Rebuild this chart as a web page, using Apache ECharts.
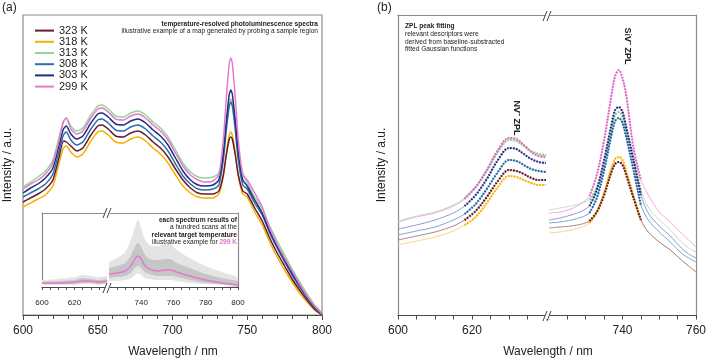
<!DOCTYPE html>
<html><head><meta charset="utf-8">
<script src="https://cdn.jsdelivr.net/npm/echarts@6/dist/echarts.min.js"></script>
<style>html,body{margin:0;padding:0;background:#fff}#c{width:709px;height:360px}</style>
</head><body><div id="c"></div>
<script>
// ---------------- data ----------------
const TEMPS = ['323 K','318 K','313 K','308 K','303 K','299 K'];

// panel (a): full spectra
const WL_A = [600,605,610,615,620,624,627,629,632,636,640,645,650,653,657,662,667,672,677,682,687,692,697,702,707,712,717,722,727,731,734,736,738,739,740,742,744,747,750,755,760,765,770,775,780,785,790,795,800];
const A_323 = [113,117,121,126,135,157,174,173,169,164,167,179,189,190,186,179,178,182,184,180,173,167,158,146,135,127,122,121,121,124,140,160,176,178,176,160,140,124,121,107,94,77,62,49,36,25,15,6,0];
const A_318 = [108,112,116,120,129,151,167,169,163,158,161,173,183,184,180,173,172,176,178,174,167,161,152,140,129,122,118,117,117,121,139,162,180,183,180,162,139,121,118,103,90,73,58,45,33,22,13,5,0];
const A_313 = [128,133,138,144,155,177,194,197,189,184,187,199,209,210,206,199,198,202,204,200,193,187,178,165,152,143,138,137,138,142,164,191,213,216,213,191,164,142,132,118,106,89,74,60,46,33,21,10,2];
const A_308 = [118,122,126,131,141,163,180,183,175,170,173,185,195,196,192,185,184,188,190,186,179,173,164,151,139,131,126,125,126,130,155,185,209,213,209,185,155,130,126,112,100,82,67,53,40,28,17,7,1];
const A_303 = [122,127,131,137,147,169,186,189,181,176,179,191,201,202,198,191,190,194,196,192,185,179,170,157,144,135,130,129,130,135,162,194,221,225,221,194,162,135,129,115,102,84,69,55,42,30,18,8,1];
const A_299 = [126,131,135,141,152,174,193,197,186,181,184,196,206,207,203,196,195,199,201,197,190,184,175,162,149,140,135,133,134,140,175,217,252,257,252,217,175,140,135,122,108,87,71,57,44,31,19,9,1];

// inset: 100-scan spread for 299 K
const WL_IL = [600,610,620,625,630,635,640];
const IL_MEAN = [4,4,5,6,6,5,6];
const IL_OUT_HI = [7,8,10,12,11,10,11];
const IL_IN_HI = [5,6,7,9,8,7,8];
const IL_IN_LO = [3,3,3,4,4,3,4];
const IL_OUT_LO = [2,2,2,3,3,2,3];
const WL_IR = [720,725,730,734,736,738,740,742,745,750,755,758,762,770,780,790,800];
const IR_MEAN = [13,14,16,22,28,31,28,22,18,16,17,17,15,11,7,4,2];
const IR_OUT_HI = [25,29,35,49,59,67,59,49,42,41,43,43,37,29,21,15,10];
const IR_IN_HI = [19,21,24,33,40,44,40,33,28,27,28,28,24,19,13,9,6];
const IR_IN_LO = [9,10,11,15,19,21,19,15,13,11,11,11,10,7,4,3,1];
const IR_OUT_LO = [6,6,7,9,12,14,12,9,8,7,7,7,6,4,3,2,1];

// panel (b): NV- region
const WL_BL = [600,605,610,615,618,621,624,627,630,632,634,636,638,640];
const BL_323 = [75,79,83,89,95,104,118,134,145,144,141,137,135,135];
const BL_318 = [70,74,78,84,90,98,112,128,139,138,135,132,130,130];
const BL_313 = [94,99,103,110,117,128,144,163,175,174,169,164,161,160];
const BL_308 = [80,84,88,95,101,111,126,143,155,154,150,146,144,143];
const BL_303 = [86,90,95,102,109,120,136,155,167,166,161,156,153,152];
const BL_299 = [93,98,102,109,116,128,145,165,177,176,170,163,159,158];
// panel (b): SiV- region
const WL_BR = [720,723,726,729,731,733,735,737,738,739,740,741,743,745,747,750,753,756,758,760];
const BR_323 = [87,88,89,91,94,103,120,143,151,153,150,140,117,95,83,73,65,55,49,43];
const BR_318 = [82,83,85,88,92,103,122,147,156,158,155,144,119,95,83,73,65,55,49,43];
const BR_313 = [105,107,109,112,115,128,153,187,200,203,198,185,155,125,108,95,85,73,67,63];
const BR_308 = [92,93,95,98,102,117,145,180,194,197,192,178,145,110,95,83,73,62,57,53];
const BR_303 = [95,97,100,104,109,125,155,190,205,208,203,188,155,120,102,89,79,67,61,57];
const BR_299 = [102,103,106,112,119,140,175,220,239,245,237,220,167,135,120,103,93,82,75,68];
// fitted ranges (Gaussian fits drawn over these windows)
const FIT_NV = [618, 640];
const FIT_SIV = [731, 745];

const TICKS_A = [600,650,700,750,800];
const TICKS_INSET = [600,620,740,760,780,800];
const TICKS_B = [600,620,740,760];

// ---------------- style ----------------
const FONT = 'Liberation Sans, Arial, Helvetica, sans-serif';
const COL_MAIN = {'323 K':'#6a1b2b','318 K':'#f6b100','313 K':'#98d598','308 K':'#2b6eab','303 K':'#262b7c','299 K':'#e37ad0'};
const COL_SPEC_B = {'323 K':'#a98690','318 K':'#f8d77f','313 K':'#bce4bc','308 K':'#76a9d8','303 K':'#9797cf','299 K':'#eeaadf'};
const COL_FIT_B = {'323 K':'#5a1422','318 K':'#f5b200','313 K':'#8fd08f','308 K':'#1d63a5','303 K':'#23297a','299 K':'#dc66c8'};
const AXC = '#4a4a4a', FRAME = '#8c8c8c', TXT = '#222';

const pairs = (wl, v) => wl.map((x, i) => [x, v[i]]);
const within = (wl, v, r) => pairs(wl, v).filter(p => p[0] >= r[0] && p[0] <= r[1]);

const A = {'323 K':A_323,'318 K':A_318,'313 K':A_313,'308 K':A_308,'303 K':A_303,'299 K':A_299};
const BL = {'323 K':BL_323,'318 K':BL_318,'313 K':BL_313,'308 K':BL_308,'303 K':BL_303,'299 K':BL_299};
const BR = {'323 K':BR_323,'318 K':BR_318,'313 K':BR_313,'308 K':BR_308,'303 K':BR_303,'299 K':BR_299};
const DRAW_ORDER = ['313 K','318 K','323 K','308 K','303 K','299 K'];

function bottomAxis(grid, min, max, interval, labels, fs, margin, tickLen, minor) {
  return {
    gridIndex: grid, type: 'value', position: 'bottom', min, max, interval,
    axisLine: {show: true, onZero: false, lineStyle: {color: AXC, width: 1.2}},
    axisTick: {show: true, length: tickLen, lineStyle: {color: AXC, width: 1}},
    minorTick: minor ? {show: true, splitNumber: minor, length: tickLen - 1, lineStyle: {color: AXC}} : {show: false},
    axisLabel: {show: true, fontSize: fs, color: TXT, fontFamily: FONT, margin,
      formatter: v => labels.indexOf(v) >= 0 ? String(v) : ''},
    splitLine: {show: false}, minorSplitLine: {show: false}
  };
}
function topAxis(grid, min, max) {
  return {gridIndex: grid, type: 'value', position: 'top', min, max,
    axisLine: {show: true, onZero: false, lineStyle: {color: FRAME, width: 1.2}},
    axisTick: {show: false}, axisLabel: {show: false}, splitLine: {show: false}};
}
function sideAxis(grid, max, pos, show) {
  return {gridIndex: grid, type: 'value', min: 0, max, position: pos,
    axisLine: {show: show, onZero: false, lineStyle: {color: FRAME, width: 1.2}},
    axisTick: {show: false}, axisLabel: {show: false}, splitLine: {show: false}};
}

const series = [];
// panel a
DRAW_ORDER.forEach(t => series.push({
  name: t, type: 'line', xAxisIndex: 0, yAxisIndex: 0, data: pairs(WL_A, A[t]),
  symbol: 'none', smooth: 0.2, lineStyle: {width: 1.5, color: COL_MAIN[t]}, itemStyle: {color: COL_MAIN[t]}
}));
// inset bands
function band(xi, yi, wl, v, color) {
  series.push({type: 'line', xAxisIndex: xi, yAxisIndex: yi, data: pairs(wl, v), symbol: 'none', smooth: 0.3,
    lineStyle: {width: 0}, areaStyle: {color, opacity: 1}, silent: true});
}
[[1,1,WL_IL,[IL_OUT_HI,IL_IN_HI,IL_IN_LO,IL_OUT_LO],IL_MEAN],[3,2,WL_IR,[IR_OUT_HI,IR_IN_HI,IR_IN_LO,IR_OUT_LO],IR_MEAN]].forEach(g => {
  const cols = ['#e4e4e4','#c6c6c6','#e4e4e4','#ffffff'];
  g[3].forEach((arr, k) => band(g[0], g[1], g[2], arr, cols[k]));
  series.push({type: 'line', xAxisIndex: g[0], yAxisIndex: g[1], data: pairs(g[2], g[4]), symbol: 'none', smooth: 0.3,
    lineStyle: {width: 1.5, color: COL_MAIN['299 K']}});
});
// panel b spectra + fits
DRAW_ORDER.forEach(t => {
  series.push({name: 'b-' + t, type: 'line', xAxisIndex: 5, yAxisIndex: 3, data: pairs(WL_BL, BL[t]), symbol: 'none', smooth: 0.25,
    lineStyle: {width: 1, color: COL_SPEC_B[t]}});
  series.push({name: 'b-' + t, type: 'line', xAxisIndex: 7, yAxisIndex: 4, data: pairs(WL_BR, BR[t]), symbol: 'none', smooth: 0.25,
    lineStyle: {width: 1, color: COL_SPEC_B[t]}});
});
DRAW_ORDER.forEach(t => {
  series.push({name: 'fit-' + t, type: 'line', xAxisIndex: 5, yAxisIndex: 3, data: within(WL_BL, BL[t], FIT_NV), symbol: 'none', smooth: 0.35,
    lineStyle: {width: 2.2, color: COL_FIT_B[t], type: [1.6, 1.4]}});
  series.push({name: 'fit-' + t, type: 'line', xAxisIndex: 7, yAxisIndex: 4, data: within(WL_BR, BR[t], FIT_SIV), symbol: 'none', smooth: 0.35,
    lineStyle: {width: 2.2, color: COL_FIT_B[t], type: [1.6, 1.4]}});
});

function brk(cx, cy) {
  return [
    {type: 'rect', shape: {x: cx - 3, y: cy - 3, width: 5, height: 6}, style: {fill: '#fff'}, z: 100},
    {type: 'line', shape: {x1: cx - 5, y1: cy + 5, x2: cx - 1, y2: cy - 5}, style: {stroke: '#444', lineWidth: 1}, z: 101},
    {type: 'line', shape: {x1: cx - 1, y1: cy + 5, x2: cx + 3, y2: cy - 5}, style: {stroke: '#444', lineWidth: 1}, z: 101}
  ];
}
function txt(x, y, text, opt) {
  return Object.assign({type: 'text', x, y, z: 110, style: Object.assign({text, fill: TXT, fontFamily: FONT, fontSize: 7,
    align: 'left', verticalAlign: 'middle'}, opt || {})}, {});
}

const graphic = [
  txt(2, 8, '(a)', {fontSize: 12}),
  txt(377, 8, '(b)', {fontSize: 12}),
  Object.assign(txt(8, 165, 'Intensity / a.u.', {fontSize: 12, align: 'center'}), {rotation: Math.PI / 2}),
  Object.assign(txt(382, 165, 'Intensity / a.u.', {fontSize: 12, align: 'center'}), {rotation: Math.PI / 2}),
  txt(173, 352, 'Wavelength / nm', {fontSize: 12, align: 'center'}),
  txt(548, 352, 'Wavelength / nm', {fontSize: 12, align: 'center'}),
  txt(318, 24, 'temperature-resolved photoluminescence spectra', {align: 'right', fontWeight: 'bold', fontSize: 6.6}),
  txt(318, 31.5, 'illustrative example of a map generated by probing a sample region', {align: 'right', fontSize: 6.6}),
  txt(237, 220, 'each spectrum results of', {align: 'right', fontWeight: 'bold', fontSize: 6.6}),
  txt(237, 227.5, 'a hundred scans at the', {align: 'right', fontSize: 6.6}),
  txt(237, 235, 'relevant target temperature', {align: 'right', fontWeight: 'bold', fontSize: 6.6}),
  {type: 'text', x: 237, y: 242.5, z: 110, style: {text: '{n|illustrative example for }{p|299 K}', align: 'right', verticalAlign: 'middle',
    rich: {n: {fontSize: 6.6, fontFamily: FONT, fill: TXT, color: TXT}, p: {fontSize: 6.6, fontFamily: FONT, fontWeight: 'bold', fill: '#e070cc', color: '#e070cc'}}}},
  txt(405, 26, 'ZPL peak fitting', {fontWeight: 'bold', fontSize: 6.6}),
  txt(405, 34, 'relevant descriptors were', {fontSize: 6.6}),
  txt(405, 41.7, 'derived from baseline-substracted', {fontSize: 6.6}),
  txt(405, 49.3, 'fitted Gaussian functions', {fontSize: 6.6}),
  Object.assign(txt(516, 118, 'NV\u207B ZPL', {fontWeight: 'bold', fontSize: 9, align: 'center'}), {rotation: -Math.PI / 2}),
  Object.assign(txt(627, 46, 'SiV\u207B ZPL', {fontWeight: 'bold', fontSize: 9, align: 'center'}), {rotation: -Math.PI / 2})
].concat(brk(548, 16), brk(548, 316), brk(108, 213), brk(108, 288));

const option = {
  animation: false,
  backgroundColor: '#fff',
  textStyle: {fontFamily: FONT},
  legend: {data: TEMPS, orient: 'vertical', left: 30, top: 20, itemWidth: 19, itemHeight: 2, itemGap: 0, icon: 'rect',
    selectedMode: false, textStyle: {fontSize: 11, lineHeight: 11.2, color: TXT, fontFamily: FONT}},
  grid: [
    {left: 23, top: 15, width: 299, height: 300, show: true, borderColor: FRAME, borderWidth: 1.2},
    {left: 42, top: 213, width: 65, height: 74},
    {left: 109, top: 213, width: 129, height: 74},
    {left: 398, top: 15, width: 148, height: 300},
    {left: 549, top: 15, width: 149, height: 300}
  ],
  xAxis: [
    bottomAxis(0, 600, 800, 50, TICKS_A, 12, 10, 5, 5),
    bottomAxis(1, 600, 640, 5, TICKS_INSET, 8, 12, 3, 0),
    topAxis(1, 600, 640),
    bottomAxis(2, 720, 800, 5, TICKS_INSET, 8, 12, 3, 0),
    topAxis(2, 720, 800),
    bottomAxis(3, 600, 640, 5, TICKS_B, 12, 10, 4.5, 0),
    topAxis(3, 600, 640),
    bottomAxis(4, 720, 760, 5, TICKS_B, 12, 10, 4.5, 0),
    topAxis(4, 720, 760)
  ],
  yAxis: [
    sideAxis(0, 300, 'left', false),
    sideAxis(1, 74, 'left', true),
    sideAxis(2, 74, 'right', true),
    sideAxis(3, 300, 'left', true),
    sideAxis(4, 300, 'right', true)
  ],
  series,
  graphic
};
const chart = echarts.init(document.getElementById('c'), null, {renderer: 'canvas'});
chart.setOption(option);
</script></body></html>
